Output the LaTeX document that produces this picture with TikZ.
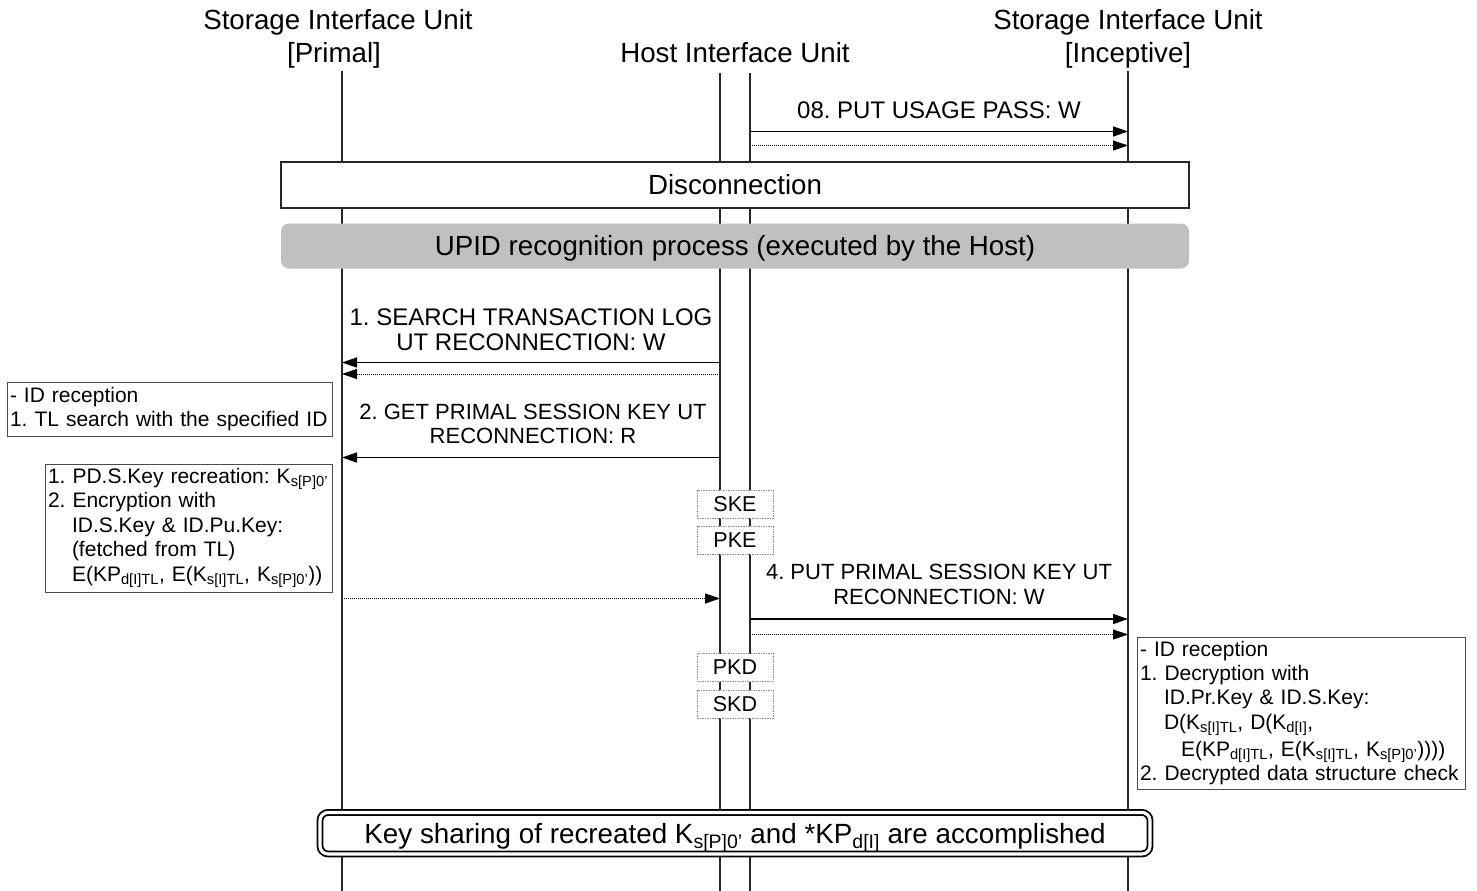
\documentclass[tikz,border=0pt]{standalone}
\usepackage{fontspec}
\setmainfont{Liberation Sans}
\usetikzlibrary{arrows.meta}
\definecolor{upidgray}{RGB}{192,192,192}
\begin{document}
\frenchspacing
\begin{tikzpicture}[x=1pt,y=-1pt,
  lifeline/.style={line width=1.4pt, draw=black!85},
  msg/.style={line width=1.5pt, draw=black, -{Triangle[length=15pt,width=10pt]}},
  rsp/.style={line width=0.8pt, draw=black, dash pattern=on 1pt off 1pt, -{Triangle[length=15pt,width=10pt]}},
  hdr/.style={font=\fontsize{27.7}{33}\selectfont, inner sep=0pt, anchor=base},
  lbl/.style={font=\fontsize{24}{25}\selectfont, inner sep=0pt, align=center, anchor=south},
  lbls/.style={lbl, font=\fontsize{22}{24.5}\selectfont},
  note/.style={draw=black!70, line width=1pt, fill=white, font=\fontsize{21}{24.5}\selectfont, align=left, inner xsep=3pt, inner ysep=0pt},
  crypto/.style={draw=black!45, dash pattern=on 1.5pt off 1pt, line width=0.9pt, fill=white, minimum width=76pt, minimum height=28pt, inner sep=0pt, font=\fontsize{21.5}{24}\selectfont},
  bigbox/.style={font=\fontsize{27.7}{33}\selectfont, text height=19.8pt, text depth=0pt, inner sep=0pt, minimum width=908pt}
]
\useasboundingbox (0,0) rectangle (1477,891);
\fill[white] (0,0) rectangle (1477,891);

% headers
\node[hdr] (hp1) at (338,30) {Storage Interface Unit};
\node[hdr] (hp2) at (334,63) {[Primal]};
\node[hdr] (hh) at (735,63) {Host Interface Unit};
\node[hdr] (hi1) at (1128,30) {Storage Interface Unit};
\node[hdr] (hi2) at (1128,63) {[Inceptive]};

% lifelines
\coordinate (pT) at (342,71);  \coordinate (pB) at (342,891);
\coordinate (h1T) at (720,73); \coordinate (h1B) at (720,891);
\coordinate (h2T) at (750,73); \coordinate (h2B) at (750,891);
\coordinate (iT) at (1128,71); \coordinate (iB) at (1128,891);
\draw[lifeline] (pT) -- (pB);
\draw[lifeline] (h1T) -- (h1B);
\draw[lifeline] (h2T) -- (h2B);
\draw[lifeline] (iT) -- (iB);

% 08
\coordinate (m8a) at (750,131.5); \coordinate (m8b) at (1128,131.5);
\coordinate (r8a) at (752,145.5); \coordinate (r8b) at (1128,145.5);
\draw[msg] (m8a) -- (m8b);
\draw[rsp] (r8a) -- (r8b);
\node[lbl] (l8) at (939,119) {08. PUT USAGE PASS: W};

% Disconnection and UPID
\node[bigbox, draw=black!85, line width=1.3pt, fill=white, minimum height=46pt] (disc) at (735,185) {Disconnection};
\node[bigbox, fill=upidgray, rounded corners=8pt, minimum height=45pt] (upid) at (735,246) {UPID recognition process (executed by the Host)};

% 1
\coordinate (m1a) at (720,362.5); \coordinate (m1b) at (342,362.5);
\coordinate (r1a) at (718,374); \coordinate (r1b) at (342,374);
\draw[msg] (m1a) -- (m1b);
\draw[rsp] (r1a) -- (r1b);
\node[lbl] (l1) at (531,350.6) {1. SEARCH TRANSACTION LOG\\UT RECONNECTION: W};

% note 1
\node[note, text width=319pt, minimum height=54pt] (n1) at (169.5,409) {- ID reception\\1. TL search with the specified ID};

% 2
\coordinate (m2a) at (720,457.5); \coordinate (m2b) at (342,457.5);
\draw[msg] (m2a) -- (m2b);
\node[lbls] (l2) at (533,444) {2. GET PRIMAL SESSION KEY UT\\RECONNECTION: R};

% note 2
\node[note, text width=281pt, minimum height=128pt] (n2) at (188.5,528) {1. PD.S.Key recreation: K\textsubscript{s[P]0’}\\
2. Encryption with\\
\hspace*{24pt}ID.S.Key \& ID.Pu.Key:\\
\hspace*{24pt}(fetched from TL)\\
\hspace*{24pt}E(KP\textsubscript{d[I]TL}, E(K\textsubscript{s[I]TL}, K\textsubscript{s[P]0’}))};

% crypto boxes
\node[crypto] (ske) at (735,504) {SKE};
\node[crypto] (pke) at (735,540) {PKE};

% 3 (reply)
\coordinate (r3a) at (344,598.5); \coordinate (r3b) at (720,598.5);
\draw[rsp] (r3a) -- (r3b);

% 4
\coordinate (m4a) at (750,619); \coordinate (m4b) at (1128,619);
\coordinate (r4a) at (752,634.5); \coordinate (r4b) at (1128,634.5);
\draw[msg] (m4a) -- (m4b);
\draw[rsp] (r4a) -- (r4b);
\node[lbls] (l4) at (939,604.5) {4. PUT PRIMAL SESSION KEY UT\\RECONNECTION: W};

\node[crypto] (pkd) at (735,667.5) {PKD};
\node[crypto] (skd) at (735,704) {SKD};

% note 3
\node[note, text width=322pt, minimum height=152pt, font=\fontsize{21}{24.2}\selectfont] (n3) at (1301,713) {- ID reception\\
1. Decryption with\\
\hspace*{24pt}ID.Pr.Key \& ID.S.Key:\\
\hspace*{24pt}D(K\textsubscript{s[I]TL}, D(K\textsubscript{d[I]},\\[3pt]
\hspace*{41pt}E(KP\textsubscript{d[I]TL}, E(K\textsubscript{s[I]TL}, K\textsubscript{s[P]0’}))))\\
2. Decrypted data structure check};

% final
\node[draw=black, double=white, double distance=3.2pt, line width=1.8pt, fill=white, rounded corners=8pt,
      minimum width=830pt, minimum height=41.5pt, inner sep=0pt,
      font=\fontsize{27.8}{33}\selectfont, text height=19.8pt, text depth=0pt] (fin) at (735,833.2)
  {Key sharing of recreated K\textsubscript{s[P]0’} and *KP\textsubscript{d[I]} are accomplished};
\end{tikzpicture}
\end{document}
